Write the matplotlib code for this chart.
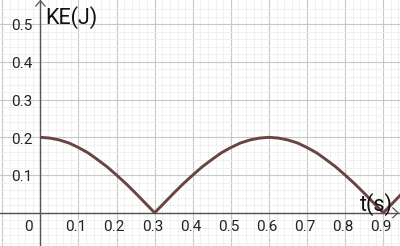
import matplotlib

matplotlib.use("Agg")
import matplotlib.pyplot as plt
import numpy as np

# kinetic energy, every 0.025 s
t = [0.0, 0.025, 0.05, 0.075, 0.1, 0.125, 0.15, 0.175, 0.2, 0.225, 0.25, 0.275,
     0.3, 0.325, 0.35, 0.375, 0.4, 0.425, 0.45, 0.475, 0.5, 0.525, 0.55, 0.575,
     0.6, 0.625, 0.65, 0.675, 0.7, 0.725, 0.75, 0.775, 0.8, 0.825, 0.85, 0.875,
     0.9, 0.925, 0.95]
ke = [0.200, 0.198, 0.193, 0.185, 0.173, 0.159, 0.141, 0.122, 0.100, 0.077, 0.052, 0.026,
      0.000, 0.026, 0.052, 0.077, 0.100, 0.122, 0.141, 0.159, 0.173, 0.185, 0.193, 0.198,
      0.200, 0.198, 0.193, 0.185, 0.173, 0.159, 0.141, 0.122, 0.100, 0.077, 0.052, 0.026,
      0.000, 0.026, 0.052]

x_ticks = [0.1, 0.2, 0.3, 0.4, 0.5, 0.6, 0.7, 0.8, 0.9]
y_ticks = [0.1, 0.2, 0.3, 0.4, 0.5]

XLIM = (-0.106, 0.944)
YLIM = (-0.088, 0.564)
AXIS_C = "#555555"
FONT = ["Roboto", "DejaVu Sans"]

fig = plt.figure(figsize=(4.0, 2.46), dpi=100)
ax = fig.add_axes([0, 0, 1, 1])

# grid first: set_ticks can widen the view, so limits go on afterwards
ax.set_xticks(np.arange(-0.1, 0.95, 0.1))
ax.set_yticks(np.arange(-0.1, 0.55, 0.1))
ax.set_xticks(np.arange(-0.1, 0.95, 0.02), minor=True)
ax.set_yticks(np.arange(-0.08, 0.56, 0.02), minor=True)
ax.set_xlim(*XLIM)
ax.set_ylim(*YLIM)
ax.grid(which="major", color="#c8c8c8", lw=0.8)
ax.grid(which="minor", color="#eeeeee", lw=0.6)
ax.set_axisbelow(True)
ax.tick_params(which="both", length=0, labelbottom=False, labelleft=False)
for s in ax.spines.values():
    s.set_visible(False)

# axes with open arrowheads
ax.axhline(0, color=AXIS_C, lw=1.0, zorder=2)
ax.axvline(0, color=AXIS_C, lw=1.0, zorder=2)
ax.plot([-0.012, 0, 0.012], [0.548, 0.562, 0.548], color=AXIS_C, lw=0.9,
        solid_joinstyle="miter", clip_on=False, zorder=2)
ax.plot([0.925, 0.939, 0.925], [0.013, 0, -0.013], color=AXIS_C, lw=0.9,
        solid_joinstyle="miter", clip_on=False, zorder=2)

ax.plot(t, ke, color="#674541", lw=2.1, solid_capstyle="butt", zorder=3)

for v in x_ticks:
    ax.text(v - 0.006, -0.038, f"{v:.1f}", ha="center", va="center",
            fontsize=11, family=FONT, color="#222222")
for v in y_ticks:
    ax.text(-0.020, v - 0.006, f"{v:.1f}", ha="right", va="center",
            fontsize=11, family=FONT, color="#222222")
ax.text(-0.020, -0.038, "0", ha="right", va="center",
        fontsize=11, family=FONT, color="#222222")

ax.text(0.012, 0.502, "KE(J)", ha="left", va="baseline",
        fontsize=15.5, family=FONT, color="#111111")
ax.text(0.84, 0.006, "t(s)", ha="left", va="baseline",
        fontsize=15.5, family=FONT, color="#111111", zorder=4)

fig.savefig("out.png", dpi=100)
